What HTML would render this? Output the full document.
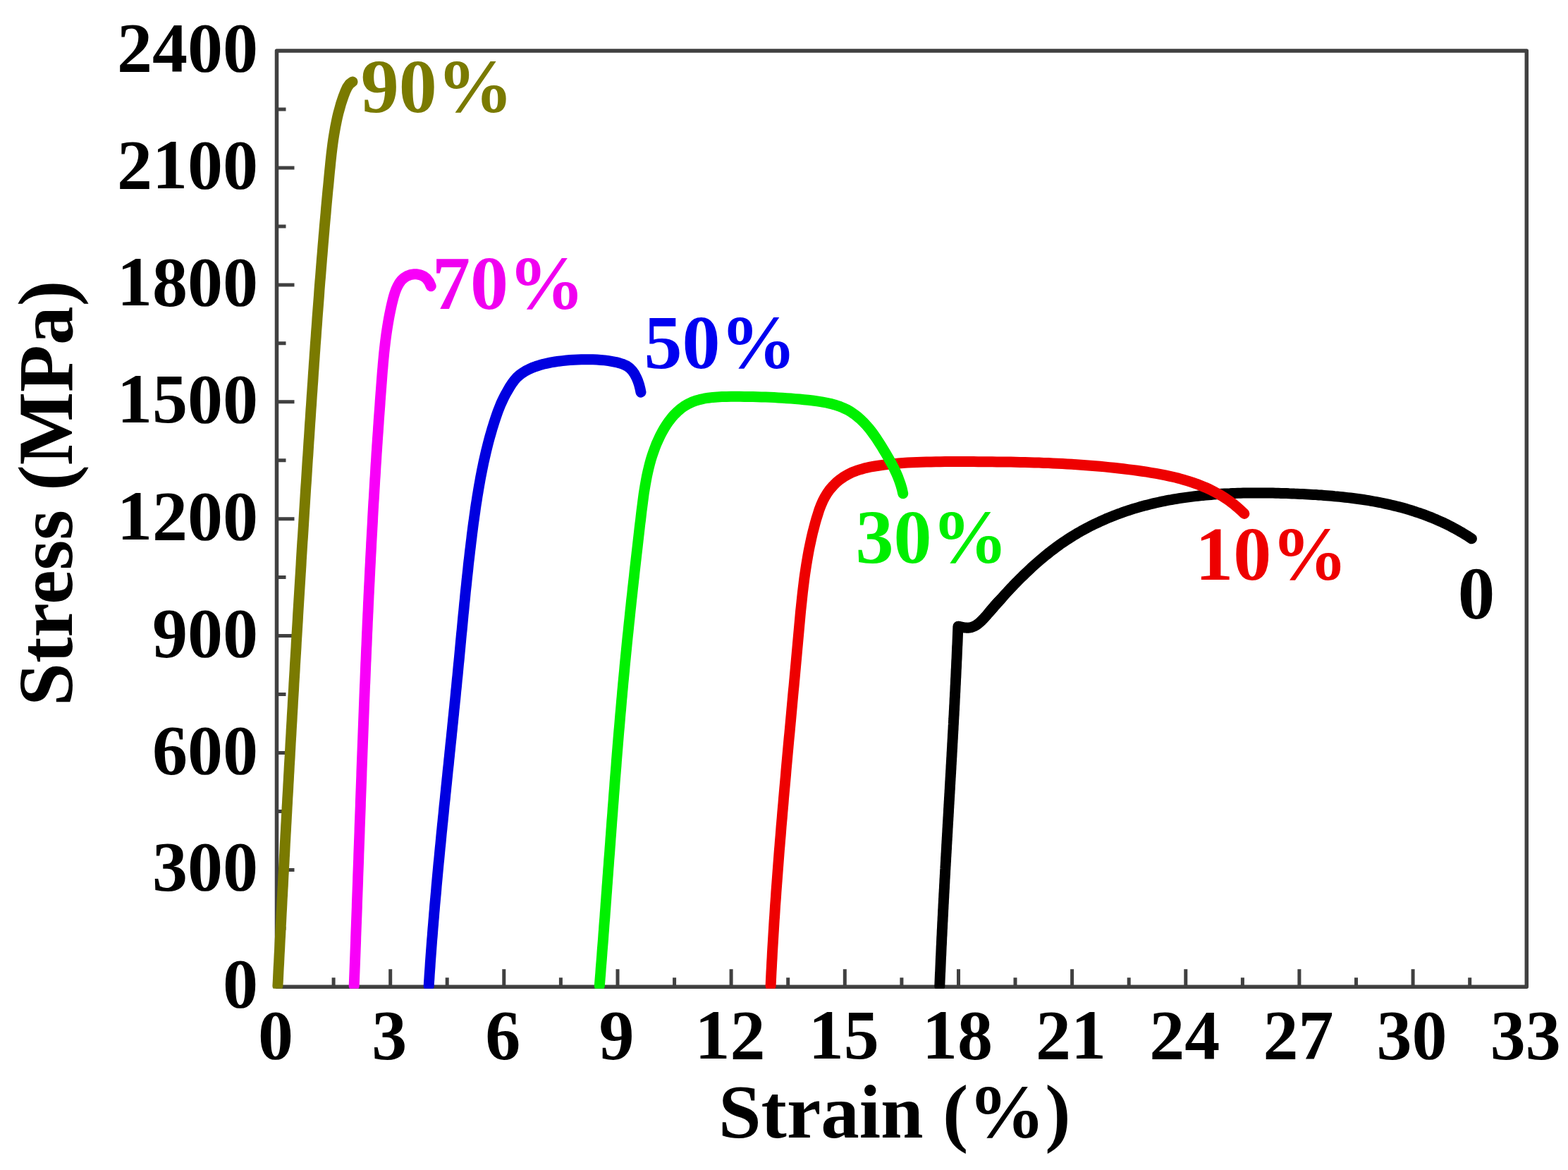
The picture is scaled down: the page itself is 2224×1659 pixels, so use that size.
<!DOCTYPE html><html><head><meta charset="utf-8"><style>html,body{margin:0;padding:0;background:#fff;}svg{display:block;}text{font-family:"Liberation Serif","Times New Roman",serif;font-weight:bold;}</style></head><body>
<svg width="2224" height="1659" viewBox="0 0 2224 1659">
<rect width="2224" height="1659" fill="#fff"/>
<rect x="392.5" y="72.1" width="1772.8" height="1327.2" fill="none" stroke="#404040" stroke-width="5.5" stroke-linejoin="round"/>
<path d="M473.1,1399.3V1386.3M553.7,1399.3V1374.3M634.2,1399.3V1386.3M714.8,1399.3V1374.3M795.4,1399.3V1386.3M876.0,1399.3V1374.3M956.6,1399.3V1386.3M1037.1,1399.3V1374.3M1117.7,1399.3V1386.3M1198.3,1399.3V1374.3M1278.9,1399.3V1386.3M1359.5,1399.3V1374.3M1440.0,1399.3V1386.3M1520.6,1399.3V1374.3M1601.2,1399.3V1386.3M1681.8,1399.3V1374.3M1762.4,1399.3V1386.3M1842.9,1399.3V1374.3M1923.5,1399.3V1386.3M2004.1,1399.3V1374.3M2084.7,1399.3V1386.3M392.5,1316.3H405.5M392.5,1233.4H417.5M392.5,1150.4H405.5M392.5,1067.5H417.5M392.5,984.5H405.5M392.5,901.6H417.5M392.5,818.6H405.5M392.5,735.7H417.5M392.5,652.7H405.5M392.5,569.8H417.5M392.5,486.8H405.5M392.5,403.9H417.5M392.5,320.9H405.5M392.5,238.0H417.5M392.5,155.0H405.5" stroke="#404040" stroke-width="5" fill="none"/>
<defs><clipPath id="pc"><rect x="380" y="60" width="1800" height="1341.8"/></clipPath></defs>
<g fill="none" stroke-width="15" stroke-linecap="round" stroke-linejoin="round" clip-path="url(#pc)">
<path stroke="#000" d="M1332.8,1398.0 L1332.9,1395.4 L1333.0,1392.8 L1333.1,1390.3 L1333.2,1387.7 L1333.3,1385.2 L1333.4,1382.6 L1333.5,1380.0 L1333.7,1377.5 L1333.8,1374.9 L1333.9,1372.4 L1334.0,1369.8 L1334.1,1367.2 L1334.2,1364.7 L1334.3,1362.1 L1334.4,1359.5 L1334.5,1357.0 L1334.7,1354.4 L1334.8,1351.9 L1334.9,1349.3 L1335.0,1346.7 L1335.1,1344.2 L1335.2,1341.6 L1335.4,1339.0 L1335.5,1336.5 L1335.6,1333.9 L1335.7,1331.4 L1335.8,1328.8 L1336.0,1326.2 L1336.1,1323.7 L1336.2,1321.1 L1336.3,1318.5 L1336.5,1316.0 L1336.6,1313.4 L1336.7,1310.9 L1336.8,1308.3 L1337.0,1305.7 L1337.1,1303.2 L1337.2,1300.6 L1337.4,1298.0 L1337.5,1295.5 L1337.6,1292.9 L1337.7,1290.4 L1337.9,1287.8 L1338.0,1285.2 L1338.1,1282.7 L1338.3,1280.1 L1338.4,1277.5 L1338.5,1275.0 L1338.7,1272.4 L1338.8,1269.8 L1338.9,1267.3 L1339.1,1264.7 L1339.2,1262.2 L1339.4,1259.6 L1339.5,1257.0 L1339.6,1254.5 L1339.8,1251.9 L1339.9,1249.3 L1340.0,1246.8 L1340.2,1244.2 L1340.3,1241.7 L1340.5,1239.1 L1340.6,1236.5 L1340.7,1234.0 L1340.9,1231.4 L1341.0,1228.8 L1341.2,1226.3 L1341.3,1223.7 L1341.5,1221.2 L1341.6,1218.6 L1341.7,1216.0 L1341.9,1213.5 L1342.0,1210.9 L1342.2,1208.3 L1342.3,1205.8 L1342.5,1203.2 L1342.6,1200.7 L1342.7,1198.1 L1342.9,1195.5 L1343.0,1193.0 L1343.2,1190.4 L1343.3,1187.8 L1343.5,1185.3 L1343.6,1182.7 L1343.8,1180.1 L1343.9,1177.6 L1344.0,1175.0 L1344.2,1172.5 L1344.3,1169.9 L1344.5,1167.3 L1344.6,1164.8 L1344.8,1162.2 L1344.9,1159.6 L1345.1,1157.1 L1345.2,1154.5 L1345.4,1152.0 L1345.5,1149.4 L1345.6,1146.8 L1345.8,1144.3 L1345.9,1141.7 L1346.1,1139.1 L1346.2,1136.6 L1346.4,1134.0 L1346.5,1131.5 L1346.7,1128.9 L1346.8,1126.3 L1347.0,1123.8 L1347.1,1121.2 L1347.3,1118.6 L1347.4,1116.1 L1347.5,1113.5 L1347.7,1111.0 L1347.8,1108.4 L1348.0,1105.8 L1348.1,1103.3 L1348.3,1100.7 L1348.4,1098.1 L1348.6,1095.6 L1348.7,1093.0 L1348.9,1090.5 L1349.0,1087.9 L1349.1,1085.3 L1349.3,1082.8 L1349.4,1080.2 L1349.6,1077.6 L1349.7,1075.1 L1349.9,1072.5 L1350.0,1070.0 L1350.1,1067.4 L1350.3,1064.8 L1350.4,1062.3 L1350.6,1059.7 L1350.7,1057.2 L1350.8,1054.6 L1351.0,1052.0 L1351.1,1049.5 L1351.3,1046.9 L1351.4,1044.3 L1351.5,1041.8 L1351.7,1039.2 L1351.8,1036.7 L1352.0,1034.1 L1352.1,1031.5 L1352.2,1029.0 L1352.4,1026.4 L1352.5,1023.8 L1352.6,1021.3 L1352.8,1018.7 L1352.9,1016.2 L1353.1,1013.6 L1353.2,1011.0 L1353.3,1008.5 L1353.5,1005.9 L1353.6,1003.4 L1353.7,1000.8 L1353.9,998.2 L1354.0,995.7 L1354.1,993.1 L1354.2,990.6 L1354.4,988.0 L1354.5,985.4 L1354.6,982.9 L1354.8,980.3 L1354.9,977.8 L1355.0,975.2 L1355.1,972.6 L1355.3,970.1 L1355.4,967.5 L1355.5,964.9 L1355.6,962.4 L1355.8,959.8 L1355.9,957.3 L1356.0,954.7 L1356.1,952.1 L1356.2,949.6 L1356.4,947.0 L1356.5,944.5 L1356.6,941.9 L1356.7,939.3 L1356.8,936.8 L1357.0,934.2 L1357.1,931.7 L1357.2,929.1 L1357.3,926.5 L1357.4,924.0 L1357.5,921.4 L1357.6,918.9 L1357.7,916.3 L1357.9,913.8 L1358.0,911.2 L1358.1,908.6 L1358.2,906.1 L1358.3,903.5 L1358.4,901.0 L1358.5,898.4 L1358.6,895.8 L1358.7,893.3 L1358.8,890.7 L1358.9,888.2"/>
<path stroke="#000" d="M1359.9,888.3 L1360.3,888.3 L1360.7,888.4 L1361.0,888.5 L1361.4,888.6 L1361.8,888.7 L1362.2,888.8 L1362.6,888.8 L1363.0,888.9 L1363.3,889.0 L1363.7,889.1 L1364.1,889.2 L1364.5,889.3 L1364.9,889.3 L1365.3,889.4 L1365.7,889.5 L1366.1,889.6 L1366.5,889.6 L1366.9,889.7 L1367.3,889.8 L1367.7,889.8 L1368.1,889.9 L1368.5,889.9 L1368.9,890.0 L1369.3,890.0 L1369.7,890.0 L1370.1,890.1 L1370.5,890.1 L1370.9,890.1 L1371.3,890.2 L1371.7,890.2 L1372.1,890.2 L1372.5,890.2 L1372.9,890.2 L1373.3,890.2 L1373.7,890.1 L1374.1,890.1 L1374.5,890.1 L1374.8,890.0 L1375.2,890.0 L1375.6,889.9 L1376.0,889.9 L1376.3,889.8 L1376.7,889.7 L1377.1,889.6 L1377.4,889.6 L1377.8,889.5 L1378.1,889.4 L1378.5,889.3 L1378.8,889.1 L1379.2,889.0 L1379.5,888.9 L1379.9,888.8 L1380.2,888.6 L1380.6,888.5 L1380.9,888.3 L1381.3,888.2 L1381.6,888.0 L1381.9,887.9 L1382.3,887.7 L1382.6,887.5 L1382.9,887.3 L1383.3,887.2 L1383.6,887.0 L1383.9,886.8 L1384.2,886.6 L1384.5,886.4 L1384.9,886.2 L1385.2,886.0 L1385.5,885.8 L1385.8,885.6 L1386.1,885.3 L1386.4,885.1 L1386.7,884.9 L1387.0,884.7 L1387.3,884.4 L1387.6,884.2 L1387.9,884.0 L1388.2,883.7 L1388.5,883.5 L1388.8,883.2 L1389.1,883.0 L1389.4,882.7 L1389.7,882.5 L1390.0,882.2 L1390.3,881.9 L1390.6,881.7 L1390.9,881.4 L1391.2,881.2 L1391.4,880.9 L1391.7,880.6 L1392.0,880.3 L1392.3,880.1 L1392.6,879.8 L1392.8,879.5 L1393.1,879.3 L1393.4,879.0 L1393.7,878.7 L1393.9,878.4 L1394.2,878.1 L1394.5,877.9 L1394.8,877.6 L1395.0,877.3 L1395.3,877.0 L1395.6,876.7 L1395.8,876.4 L1396.1,876.2 L1396.3,875.9 L1396.6,875.6 L1396.9,875.3 L1397.1,875.0 L1397.4,874.7 L1397.7,874.4 L1397.9,874.1 L1398.2,873.8 L1398.4,873.6 L1398.7,873.3 L1399.0,873.0 L1399.2,872.7 L1399.5,872.4 L1399.7,872.1 L1400.0,871.8 L1400.2,871.5 L1400.5,871.2 L1400.7,870.9 L1401.0,870.6 L1401.2,870.3 L1401.5,870.0 L1401.7,869.7 L1402.0,869.4 L1402.2,869.1 L1402.5,868.8 L1402.7,868.5 L1403.0,868.2 L1403.2,867.9 L1403.5,867.6 L1403.7,867.3 L1404.0,867.0 L1404.2,866.7 L1404.5,866.4 L1404.7,866.1 L1405.0,865.8 L1405.2,865.5 L1405.5,865.2 L1405.7,864.9 L1406.0,864.6 L1406.2,864.4 L1406.5,864.1 L1406.7,863.8 L1407.0,863.5 L1407.2,863.2 L1407.5,862.9 L1407.7,862.6 L1408.0,862.3 L1408.2,862.0 L1408.5,861.7 L1408.7,861.4 L1409.0,861.1 L1409.2,860.8 L1409.5,860.5 L1409.7,860.2 L1410.0,859.9 L1410.2,859.6 L1410.5,859.3 L1410.7,859.0 L1411.0,858.7 L1411.2,858.4 L1411.5,858.1 L1411.7,857.9 L1412.0,857.6 L1412.3,857.3 L1412.5,857.0 L1412.8,856.7 L1413.0,856.4 L1413.3,856.1 L1413.5,855.8 L1413.8,855.6 L1414.1,855.3 L1414.3,855.0 L1414.6,854.7 L1414.9,854.4 L1415.1,854.1 L1415.4,853.9 L1415.6,853.6 L1415.9,853.3 L1416.2,853.0 L1416.5,852.8 L1416.7,852.5 L1417.0,852.2 L1417.3,851.9 L1417.5,851.7 L1417.8,851.4 L1418.1,851.1 L1418.4,850.8 L1418.6,850.6 L1418.9,850.3 L1419.2,850.0 L1419.5,849.8 L1419.8,849.5 L1420.0,849.3"/>
<path stroke="#000" d="M1403.1,868.3 L1405.5,865.4 L1408.0,862.6 L1410.4,859.7 L1412.9,856.9 L1415.4,854.0 L1417.9,851.2 L1420.4,848.4 L1423.0,845.6 L1425.5,842.8 L1428.1,840.0 L1430.7,837.2 L1433.2,834.4 L1435.9,831.7 L1438.5,828.9 L1441.1,826.2 L1443.8,823.5 L1446.5,820.8 L1449.1,818.2 L1451.9,815.5 L1454.6,812.9 L1457.3,810.3 L1460.1,807.7 L1462.9,805.1 L1465.6,802.6 L1468.5,800.0 L1471.3,797.5 L1474.1,795.1 L1477.0,792.6 L1479.9,790.2 L1482.8,787.8 L1485.7,785.5 L1488.6,783.1 L1491.6,780.8 L1494.6,778.6 L1497.6,776.3 L1500.6,774.1 L1503.6,771.9 L1506.7,769.8 L1509.8,767.7 L1512.9,765.6 L1516.0,763.6 L1519.1,761.6 L1522.3,759.6 L1525.5,757.7 L1528.7,755.8 L1531.9,754.0 L1535.2,752.1 L1538.4,750.4 L1541.7,748.6 L1545.0,746.9 L1548.3,745.2 L1551.6,743.6 L1555.0,742.0 L1558.3,740.4 L1561.7,738.8 L1565.1,737.3 L1568.5,735.8 L1571.9,734.4 L1575.4,733.0 L1578.8,731.6 L1582.3,730.3 L1585.8,728.9 L1589.2,727.7 L1592.7,726.4 L1596.3,725.2 L1599.8,724.0 L1603.3,722.9 L1606.9,721.7 L1610.5,720.6 L1614.0,719.6 L1617.6,718.6 L1621.2,717.6 L1624.8,716.6 L1628.5,715.7 L1632.1,714.8 L1635.7,713.9 L1639.4,713.0 L1643.0,712.2 L1646.7,711.4 L1650.4,710.7 L1654.0,709.9 L1657.7,709.2 L1661.4,708.6 L1665.1,707.9 L1668.8,707.3 L1672.6,706.7 L1676.3,706.1 L1680.0,705.6 L1683.8,705.1 L1687.5,704.6 L1691.3,704.1 L1695.0,703.6 L1698.8,703.2 L1702.5,702.8 L1706.3,702.4 L1710.1,702.1 L1713.9,701.7 L1717.7,701.4 L1721.5,701.1 L1725.3,700.8 L1729.1,700.6 L1732.9,700.3 L1736.7,700.1 L1740.5,699.9 L1744.3,699.8 L1748.1,699.6 L1751.9,699.5 L1755.7,699.3 L1759.6,699.2 L1763.4,699.1 L1767.2,699.1 L1771.0,699.0 L1774.9,699.0 L1778.7,698.9 L1782.5,698.9 L1786.4,698.9 L1790.2,698.9 L1794.0,699.0 L1797.8,699.0 L1801.7,699.1 L1805.5,699.1 L1809.3,699.2 L1813.2,699.3 L1817.0,699.4 L1820.8,699.5 L1824.6,699.6 L1828.5,699.8 L1832.3,699.9 L1836.1,700.1 L1839.9,700.2 L1843.7,700.4 L1847.5,700.6 L1851.3,700.8 L1855.1,701.0 L1858.9,701.2 L1862.7,701.4 L1866.5,701.6 L1870.3,701.9 L1874.1,702.1 L1877.8,702.4 L1881.6,702.7 L1885.4,703.0 L1889.2,703.3 L1892.9,703.7 L1896.7,704.0 L1900.4,704.4 L1904.2,704.8 L1907.9,705.2 L1911.6,705.6 L1915.4,706.0 L1919.1,706.5 L1922.8,707.0 L1926.5,707.5 L1930.2,708.0 L1933.9,708.5 L1937.6,709.1 L1941.3,709.7 L1944.9,710.3 L1948.6,711.0 L1952.2,711.6 L1955.9,712.3 L1959.5,713.0 L1963.2,713.8 L1966.8,714.6 L1970.4,715.4 L1974.0,716.2 L1977.6,717.1 L1981.2,718.0 L1984.8,718.9 L1988.4,719.8 L1991.9,720.8 L1995.5,721.8 L1999.0,722.9 L2002.6,724.0 L2006.1,725.1 L2009.6,726.3 L2013.1,727.4 L2016.6,728.7 L2020.1,729.9 L2023.6,731.2 L2027.0,732.6 L2030.5,733.9 L2033.9,735.4 L2037.4,736.8 L2040.8,738.3 L2044.2,739.8 L2047.6,741.4 L2051.0,743.0 L2054.3,744.7 L2057.7,746.4 L2061.0,748.2 L2064.4,749.9 L2067.7,751.8 L2071.0,753.7 L2074.3,755.6 L2077.6,757.6 L2080.9,759.6 L2084.1,761.7 L2087.4,763.8"/>
<path stroke="#ee0000" d="M1093.1,1398.0 L1093.4,1391.4 L1093.7,1384.7 L1094.0,1378.0 L1094.4,1371.4 L1094.7,1364.7 L1095.1,1358.1 L1095.4,1351.4 L1095.8,1344.8 L1096.2,1338.1 L1096.6,1331.5 L1097.0,1324.8 L1097.4,1318.2 L1097.8,1311.5 L1098.2,1304.9 L1098.7,1298.2 L1099.1,1291.6 L1099.5,1284.9 L1100.0,1278.3 L1100.5,1271.6 L1100.9,1265.0 L1101.4,1258.3 L1101.9,1251.7 L1102.4,1245.1 L1102.9,1238.4 L1103.4,1231.8 L1103.9,1225.1 L1104.4,1218.5 L1104.9,1211.9 L1105.4,1205.2 L1106.0,1198.6 L1106.5,1191.9 L1107.1,1185.3 L1107.6,1178.7 L1108.1,1172.0 L1108.7,1165.4 L1109.3,1158.8 L1109.8,1152.1 L1110.4,1145.5 L1111.0,1138.9 L1111.5,1132.2 L1112.1,1125.6 L1112.7,1119.0 L1113.3,1112.3 L1113.9,1105.7 L1114.5,1099.1 L1115.0,1092.4 L1115.6,1085.8 L1116.2,1079.2 L1116.8,1072.5 L1117.4,1065.9 L1118.0,1059.3 L1118.6,1052.6 L1119.2,1046.0 L1119.9,1039.4 L1120.5,1032.7 L1121.1,1026.1 L1121.7,1019.5 L1122.3,1012.8 L1122.9,1006.2 L1123.5,999.6 L1124.1,992.9 L1124.7,986.3 L1125.3,979.7 L1126.0,973.0 L1126.6,966.4 L1127.2,959.8 L1127.8,953.1 L1128.4,946.5 L1129.0,939.8 L1129.6,933.2 L1130.2,926.6 L1130.8,919.9 L1131.4,913.3 L1132.0,906.6 L1132.6,900.0 L1133.2,893.4 L1133.8,886.7 L1134.4,880.1 L1135.0,873.4 L1135.6,866.8 L1136.3,860.2 L1137.0,853.6 L1137.7,846.9 L1138.4,840.3 L1139.2,833.7 L1140.0,827.1 L1140.8,820.5 L1141.7,813.9 L1142.7,807.3 L1143.7,800.8 L1144.8,794.2 L1145.9,787.7 L1147.1,781.1 L1148.4,774.6 L1149.8,768.1 L1151.2,761.6 L1152.7,755.1 L1154.4,748.7 L1156.1,742.2 L1157.9,735.8 L1159.9,729.4 L1161.9,723.0 L1164.3,716.8 L1166.9,710.7 L1169.9,704.8 L1173.4,699.1 L1177.3,693.7 L1181.7,688.7 L1186.4,684.0 L1191.5,679.8 L1197.0,676.0 L1202.7,672.7 L1208.6,669.8 L1214.8,667.4 L1221.2,665.4 L1227.7,663.6 L1234.2,662.2 L1240.9,661.0 L1247.6,660.0 L1254.2,659.1 L1260.9,658.3 L1267.5,657.6 L1274.1,657.1 L1280.7,656.5 L1287.3,656.1 L1293.9,655.7 L1300.6,655.4 L1307.2,655.2 L1313.9,655.0 L1320.6,654.9 L1327.2,654.8 L1333.9,654.7 L1340.6,654.6 L1347.3,654.6 L1353.9,654.6 L1360.6,654.6 L1367.3,654.6 L1374.0,654.6 L1380.6,654.6 L1387.3,654.7 L1394.0,654.7 L1400.6,654.7 L1407.3,654.8 L1413.9,654.9 L1420.6,654.9 L1427.2,655.0 L1433.9,655.1 L1440.5,655.3 L1447.2,655.4 L1453.8,655.6 L1460.5,655.7 L1467.1,655.9 L1473.7,656.1 L1480.4,656.4 L1487.0,656.6 L1493.6,656.9 L1500.3,657.2 L1506.9,657.6 L1513.6,657.9 L1520.2,658.3 L1526.8,658.7 L1533.5,659.2 L1540.1,659.7 L1546.7,660.2 L1553.4,660.7 L1560.0,661.3 L1566.6,661.9 L1573.3,662.6 L1579.9,663.3 L1586.5,664.0 L1593.2,664.8 L1599.8,665.6 L1606.5,666.4 L1613.1,667.3 L1619.8,668.2 L1626.4,669.2 L1633.0,670.3 L1639.7,671.4 L1646.3,672.6 L1652.8,673.9 L1659.4,675.3 L1665.9,676.8 L1672.3,678.4 L1678.7,680.2 L1685.1,682.1 L1691.3,684.1 L1697.6,686.3 L1703.7,688.7 L1709.8,691.2 L1715.8,693.9 L1721.6,696.9 L1727.4,700.0 L1733.1,703.3 L1738.7,706.9 L1744.2,710.7 L1749.6,714.8 L1754.8,719.1 L1759.9,723.6 L1764.9,728.4"/>
<path stroke="#00f000" d="M850.3,1397.9 L850.8,1391.8 L851.3,1385.7 L851.8,1379.6 L852.2,1373.5 L852.7,1367.4 L853.2,1361.3 L853.7,1355.1 L854.1,1349.0 L854.6,1342.9 L855.1,1336.8 L855.6,1330.7 L856.0,1324.6 L856.5,1318.4 L856.9,1312.3 L857.4,1306.2 L857.9,1300.1 L858.3,1293.9 L858.8,1287.8 L859.2,1281.7 L859.7,1275.5 L860.1,1269.4 L860.6,1263.3 L861.0,1257.1 L861.5,1251.0 L861.9,1244.9 L862.4,1238.7 L862.8,1232.6 L863.3,1226.5 L863.7,1220.3 L864.2,1214.2 L864.7,1208.1 L865.1,1201.9 L865.6,1195.8 L866.0,1189.6 L866.5,1183.5 L866.9,1177.4 L867.4,1171.2 L867.8,1165.1 L868.3,1159.0 L868.8,1152.8 L869.2,1146.7 L869.7,1140.5 L870.2,1134.4 L870.6,1128.3 L871.1,1122.1 L871.6,1116.0 L872.0,1109.9 L872.5,1103.7 L873.0,1097.6 L873.5,1091.5 L874.0,1085.3 L874.4,1079.2 L874.9,1073.1 L875.4,1066.9 L875.9,1060.8 L876.4,1054.7 L876.9,1048.5 L877.4,1042.4 L877.9,1036.3 L878.5,1030.2 L879.0,1024.1 L879.5,1017.9 L880.0,1011.8 L880.6,1005.7 L881.1,999.6 L881.6,993.5 L882.2,987.4 L882.7,981.2 L883.3,975.1 L883.8,969.0 L884.4,962.9 L885.0,956.8 L885.6,950.7 L886.1,944.6 L886.7,938.5 L887.3,932.4 L887.9,926.3 L888.5,920.2 L889.1,914.1 L889.7,908.1 L890.3,902.0 L891.0,895.9 L891.6,889.8 L892.2,883.7 L892.9,877.6 L893.5,871.5 L894.1,865.4 L894.8,859.3 L895.4,853.2 L896.1,847.1 L896.8,841.0 L897.4,834.9 L898.1,828.8 L898.8,822.7 L899.5,816.6 L900.1,810.5 L900.8,804.4 L901.5,798.3 L902.2,792.2 L902.9,786.0 L903.6,779.9 L904.3,773.8 L905.0,767.6 L905.7,761.5 L906.4,755.3 L907.1,749.2 L907.8,743.0 L908.6,736.9 L909.3,730.7 L910.0,724.5 L910.8,718.4 L911.6,712.2 L912.4,706.1 L913.2,699.9 L914.2,693.8 L915.2,687.7 L916.3,681.6 L917.4,675.6 L918.7,669.6 L920.1,663.6 L921.6,657.7 L923.2,651.8 L925.0,646.0 L927.0,640.2 L929.1,634.5 L931.3,628.8 L933.8,623.3 L936.4,617.8 L939.3,612.3 L942.3,607.0 L945.6,601.8 L949.1,596.8 L952.8,592.1 L956.8,587.6 L961.1,583.4 L965.6,579.5 L970.4,576.0 L975.5,573.0 L980.8,570.4 L986.5,568.3 L992.3,566.6 L998.4,565.2 L1004.6,564.2 L1011.0,563.4 L1017.4,562.9 L1023.9,562.6 L1030.3,562.4 L1036.8,562.3 L1043.2,562.3 L1049.5,562.3 L1055.7,562.4 L1061.9,562.4 L1068.0,562.6 L1074.0,562.7 L1080.0,562.9 L1086.0,563.1 L1092.0,563.3 L1097.9,563.6 L1103.9,563.9 L1109.8,564.3 L1115.8,564.7 L1121.9,565.1 L1127.9,565.6 L1134.1,566.1 L1140.3,566.7 L1146.5,567.3 L1152.8,568.0 L1159.1,568.9 L1165.4,569.8 L1171.7,571.0 L1177.8,572.3 L1183.8,573.9 L1189.7,575.8 L1195.4,578.1 L1200.9,580.6 L1206.1,583.6 L1211.1,586.9 L1215.8,590.5 L1220.3,594.4 L1224.7,598.6 L1228.8,603.0 L1232.8,607.7 L1236.6,612.5 L1240.2,617.5 L1243.7,622.6 L1247.1,627.8 L1250.4,633.0 L1253.6,638.4 L1256.8,643.7 L1259.9,649.0 L1262.9,654.4 L1265.8,659.8 L1268.6,665.2 L1271.2,670.7 L1273.6,676.3 L1275.7,682.0 L1277.7,687.8 L1279.4,693.7 L1280.7,699.8"/>
<path stroke="#0000e0" d="M608.2,1398.0 L608.5,1392.6 L608.9,1387.1 L609.2,1381.7 L609.6,1376.3 L610.0,1370.8 L610.3,1365.4 L610.7,1360.0 L611.1,1354.5 L611.5,1349.1 L611.9,1343.7 L612.3,1338.2 L612.7,1332.8 L613.2,1327.4 L613.6,1321.9 L614.0,1316.5 L614.5,1311.1 L614.9,1305.7 L615.4,1300.2 L615.8,1294.8 L616.3,1289.4 L616.7,1283.9 L617.2,1278.5 L617.7,1273.1 L618.2,1267.7 L618.7,1262.2 L619.1,1256.8 L619.6,1251.4 L620.1,1246.0 L620.6,1240.5 L621.1,1235.1 L621.6,1229.7 L622.1,1224.3 L622.7,1218.8 L623.2,1213.4 L623.7,1208.0 L624.2,1202.6 L624.8,1197.1 L625.3,1191.7 L625.8,1186.3 L626.3,1180.9 L626.9,1175.4 L627.4,1170.0 L628.0,1164.6 L628.5,1159.2 L629.1,1153.7 L629.6,1148.3 L630.1,1142.9 L630.7,1137.5 L631.3,1132.1 L631.8,1126.6 L632.4,1121.2 L632.9,1115.8 L633.5,1110.4 L634.0,1105.0 L634.6,1099.5 L635.1,1094.1 L635.7,1088.7 L636.3,1083.3 L636.8,1077.8 L637.4,1072.4 L637.9,1067.0 L638.5,1061.6 L639.0,1056.2 L639.6,1050.7 L640.2,1045.3 L640.7,1039.9 L641.3,1034.5 L641.8,1029.1 L642.4,1023.6 L642.9,1018.2 L643.5,1012.8 L644.0,1007.4 L644.6,1002.0 L645.1,996.5 L645.7,991.1 L646.2,985.7 L646.7,980.3 L647.3,974.9 L647.8,969.5 L648.3,964.0 L648.9,958.6 L649.4,953.2 L649.9,947.8 L650.4,942.4 L651.0,936.9 L651.5,931.5 L652.0,926.1 L652.5,920.7 L653.0,915.3 L653.5,909.8 L654.0,904.4 L654.5,899.0 L655.1,893.6 L655.6,888.2 L656.1,882.8 L656.6,877.3 L657.1,871.9 L657.7,866.5 L658.2,861.1 L658.7,855.7 L659.3,850.2 L659.8,844.8 L660.3,839.4 L660.9,834.0 L661.5,828.6 L662.0,823.2 L662.6,817.7 L663.2,812.3 L663.8,806.9 L664.3,801.5 L664.9,796.1 L665.6,790.6 L666.2,785.2 L666.8,779.8 L667.5,774.4 L668.1,769.0 L668.8,763.6 L669.4,758.1 L670.1,752.7 L670.8,747.3 L671.5,741.9 L672.3,736.5 L673.0,731.1 L673.8,725.6 L674.5,720.2 L675.3,714.8 L676.2,709.4 L677.0,704.0 L677.9,698.7 L678.8,693.3 L679.7,687.9 L680.7,682.5 L681.6,677.2 L682.7,671.8 L683.7,666.5 L684.8,661.2 L685.9,655.8 L687.1,650.5 L688.3,645.3 L689.5,640.0 L690.8,634.7 L692.1,629.5 L693.5,624.2 L694.9,619.0 L696.4,613.8 L697.9,608.6 L699.5,603.5 L701.1,598.3 L702.8,593.2 L704.5,588.1 L706.3,583.0 L708.3,578.0 L710.3,573.0 L712.6,568.0 L715.0,563.0 L717.6,558.1 L720.4,553.2 L723.2,548.4 L726.2,543.7 L729.4,539.4 L732.9,535.4 L736.8,531.9 L741.0,528.8 L745.4,526.0 L750.1,523.6 L755.0,521.4 L760.1,519.5 L765.4,517.8 L770.8,516.3 L776.2,515.1 L781.7,513.9 L787.2,513.0 L792.6,512.2 L798.0,511.6 L803.3,511.0 L808.6,510.6 L813.9,510.2 L819.2,510.0 L824.6,509.8 L830.1,509.7 L835.6,509.7 L841.1,509.8 L846.7,510.0 L852.2,510.4 L857.7,510.9 L863.2,511.7 L868.6,512.6 L874.0,513.6 L879.2,515.0 L884.3,516.7 L889.0,518.9 L893.2,521.9 L896.8,525.7 L899.9,530.0 L902.5,534.9 L904.7,540.0 L906.5,545.4 L907.9,550.8 L909.0,556.2"/>
<path stroke="#f800f8" d="M502.2,1397.9 L502.4,1392.6 L502.6,1387.3 L502.8,1382.0 L503.0,1376.7 L503.2,1371.4 L503.4,1366.1 L503.6,1360.8 L503.8,1355.5 L504.0,1350.1 L504.2,1344.8 L504.4,1339.5 L504.6,1334.2 L504.7,1328.9 L504.9,1323.6 L505.1,1318.3 L505.3,1313.0 L505.5,1307.6 L505.7,1302.3 L505.9,1297.0 L506.1,1291.7 L506.3,1286.4 L506.4,1281.1 L506.6,1275.7 L506.8,1270.4 L507.0,1265.1 L507.2,1259.8 L507.4,1254.5 L507.6,1249.2 L507.7,1243.8 L507.9,1238.5 L508.1,1233.2 L508.3,1227.9 L508.5,1222.6 L508.7,1217.2 L508.8,1211.9 L509.0,1206.6 L509.2,1201.3 L509.4,1196.0 L509.6,1190.6 L509.8,1185.3 L510.0,1180.0 L510.1,1174.7 L510.3,1169.4 L510.5,1164.0 L510.7,1158.7 L510.9,1153.4 L511.1,1148.1 L511.3,1142.8 L511.4,1137.4 L511.6,1132.1 L511.8,1126.8 L512.0,1121.5 L512.2,1116.2 L512.4,1110.8 L512.6,1105.5 L512.8,1100.2 L512.9,1094.9 L513.1,1089.6 L513.3,1084.2 L513.5,1078.9 L513.7,1073.6 L513.9,1068.3 L514.1,1062.9 L514.3,1057.6 L514.5,1052.3 L514.7,1047.0 L514.9,1041.7 L515.1,1036.3 L515.3,1031.0 L515.5,1025.7 L515.7,1020.4 L515.9,1015.0 L516.1,1009.7 L516.3,1004.4 L516.5,999.1 L516.7,993.8 L516.9,988.4 L517.1,983.1 L517.3,977.8 L517.5,972.5 L517.8,967.2 L518.0,961.8 L518.2,956.5 L518.4,951.2 L518.6,945.9 L518.8,940.6 L519.1,935.2 L519.3,929.9 L519.5,924.6 L519.7,919.3 L520.0,914.0 L520.2,908.6 L520.4,903.3 L520.6,898.0 L520.9,892.7 L521.1,887.4 L521.3,882.0 L521.6,876.7 L521.8,871.4 L522.1,866.1 L522.3,860.8 L522.5,855.4 L522.8,850.1 L523.0,844.8 L523.3,839.5 L523.5,834.2 L523.8,828.9 L524.1,823.5 L524.3,818.2 L524.6,812.9 L524.8,807.6 L525.1,802.3 L525.4,797.0 L525.6,791.7 L525.9,786.3 L526.2,781.0 L526.5,775.7 L526.7,770.4 L527.0,765.1 L527.3,759.8 L527.6,754.5 L527.9,749.2 L528.2,743.8 L528.5,738.5 L528.7,733.2 L529.0,727.9 L529.3,722.6 L529.6,717.3 L529.9,712.0 L530.3,706.7 L530.6,701.4 L530.9,696.1 L531.2,690.8 L531.5,685.5 L531.8,680.1 L532.2,674.8 L532.5,669.5 L532.8,664.2 L533.1,658.9 L533.5,653.6 L533.8,648.3 L534.1,643.0 L534.5,637.7 L534.8,632.4 L535.2,627.1 L535.5,621.8 L535.9,616.5 L536.3,611.2 L536.6,605.9 L537.0,600.6 L537.3,595.3 L537.7,590.0 L538.1,584.7 L538.5,579.4 L538.9,574.1 L539.2,568.8 L539.6,563.5 L540.0,558.2 L540.4,553.0 L540.8,547.7 L541.2,542.4 L541.6,537.1 L542.0,531.8 L542.4,526.5 L542.9,521.2 L543.3,515.9 L543.8,510.6 L544.3,505.3 L544.8,500.0 L545.4,494.7 L546.0,489.4 L546.6,484.1 L547.3,478.8 L548.0,473.5 L548.8,468.2 L549.6,462.9 L550.5,457.6 L551.4,452.2 L552.4,446.9 L553.5,441.6 L554.6,436.2 L555.8,430.9 L557.1,425.6 L558.5,420.2 L560.1,415.0 L561.9,410.1 L564.1,405.4 L566.6,401.1 L569.5,397.3 L573.0,394.1 L577.1,391.5 L581.7,389.7 L586.5,388.8 L591.5,388.8 L596.4,389.8 L601.1,391.9 L605.2,395.2 L608.6,399.8 L611.2,405.8"/>
<path stroke="#7a7a00" d="M393.9,1397.9 L394.3,1391.4 L394.6,1384.9 L394.9,1378.4 L395.2,1371.9 L395.6,1365.5 L395.9,1359.0 L396.2,1352.5 L396.6,1346.0 L396.9,1339.5 L397.2,1333.0 L397.6,1326.6 L397.9,1320.1 L398.2,1313.6 L398.6,1307.1 L398.9,1300.6 L399.2,1294.1 L399.6,1287.7 L399.9,1281.2 L400.2,1274.7 L400.6,1268.2 L400.9,1261.7 L401.3,1255.2 L401.6,1248.7 L401.9,1242.2 L402.3,1235.8 L402.6,1229.3 L403.0,1222.8 L403.3,1216.3 L403.7,1209.8 L404.0,1203.3 L404.3,1196.8 L404.7,1190.3 L405.0,1183.9 L405.4,1177.4 L405.7,1170.9 L406.1,1164.4 L406.4,1157.9 L406.8,1151.4 L407.1,1144.9 L407.5,1138.4 L407.8,1131.9 L408.2,1125.5 L408.6,1119.0 L408.9,1112.5 L409.3,1106.0 L409.6,1099.5 L410.0,1093.0 L410.3,1086.5 L410.7,1080.0 L411.1,1073.5 L411.4,1067.0 L411.8,1060.6 L412.1,1054.1 L412.5,1047.6 L412.9,1041.1 L413.2,1034.6 L413.6,1028.1 L414.0,1021.6 L414.3,1015.1 L414.7,1008.6 L415.1,1002.1 L415.4,995.6 L415.8,989.2 L416.2,982.7 L416.6,976.2 L416.9,969.7 L417.3,963.2 L417.7,956.7 L418.1,950.2 L418.4,943.7 L418.8,937.2 L419.2,930.7 L419.6,924.3 L420.0,917.8 L420.3,911.3 L420.7,904.8 L421.1,898.3 L421.5,891.8 L421.9,885.3 L422.3,878.8 L422.6,872.3 L423.0,865.9 L423.4,859.4 L423.8,852.9 L424.2,846.4 L424.6,839.9 L425.0,833.4 L425.4,826.9 L425.8,820.4 L426.2,813.9 L426.6,807.5 L427.0,801.0 L427.3,794.5 L427.7,788.0 L428.1,781.5 L428.5,775.0 L428.9,768.5 L429.4,762.0 L429.8,755.6 L430.2,749.1 L430.6,742.6 L431.0,736.1 L431.4,729.6 L431.8,723.1 L432.2,716.7 L432.6,710.2 L433.0,703.7 L433.4,697.2 L433.8,690.7 L434.3,684.2 L434.7,677.7 L435.1,671.3 L435.5,664.8 L435.9,658.3 L436.3,651.8 L436.8,645.3 L437.2,638.9 L437.6,632.4 L438.0,625.9 L438.5,619.4 L438.9,612.9 L439.3,606.5 L439.7,600.0 L440.2,593.5 L440.6,587.0 L441.0,580.5 L441.5,574.1 L441.9,567.6 L442.3,561.1 L442.8,554.6 L443.2,548.2 L443.7,541.7 L444.1,535.2 L444.5,528.7 L445.0,522.3 L445.4,515.8 L445.9,509.3 L446.3,502.8 L446.8,496.4 L447.2,489.9 L447.7,483.4 L448.2,476.9 L448.6,470.4 L449.1,464.0 L449.6,457.5 L450.0,451.0 L450.5,444.5 L451.0,438.1 L451.5,431.6 L452.0,425.1 L452.5,418.6 L452.9,412.1 L453.4,405.7 L453.9,399.2 L454.5,392.7 L455.0,386.2 L455.5,379.7 L456.0,373.3 L456.5,366.8 L457.1,360.3 L457.6,353.8 L458.1,347.3 L458.7,340.8 L459.2,334.3 L459.8,327.9 L460.3,321.4 L460.9,314.9 L461.5,308.4 L462.1,301.9 L462.6,295.4 L463.2,288.9 L463.8,282.4 L464.4,275.9 L465.0,269.4 L465.7,262.9 L466.3,256.4 L466.9,249.9 L467.5,243.4 L468.2,236.9 L468.8,230.4 L469.5,223.9 L470.2,217.4 L471.0,210.9 L471.8,204.5 L472.7,198.0 L473.7,191.6 L474.8,185.2 L475.9,178.9 L477.2,172.6 L478.5,166.3 L480.0,160.0 L481.7,153.9 L483.4,147.7 L485.4,141.6 L487.5,135.6 L489.8,129.6 L492.4,124.0 L495.7,119.2 L500.0,115.9"/>
</g>
<g font-size="100" fill="#000">
<text x="366" y="1428.3" text-anchor="end">0</text>
<text x="366" y="1262.4" text-anchor="end">300</text>
<text x="366" y="1096.5" text-anchor="end">600</text>
<text x="366" y="930.6" text-anchor="end">900</text>
<text x="366" y="764.7" text-anchor="end">1200</text>
<text x="366" y="598.8" text-anchor="end">1500</text>
<text x="366" y="432.9" text-anchor="end">1800</text>
<text x="366" y="267.0" text-anchor="end">2100</text>
<text x="366" y="101.1" text-anchor="end">2400</text>
<text x="391.0" y="1500.5" text-anchor="middle">0</text>
<text x="552.2" y="1500.5" text-anchor="middle">3</text>
<text x="713.3" y="1500.5" text-anchor="middle">6</text>
<text x="874.5" y="1500.5" text-anchor="middle">9</text>
<text x="1035.6" y="1500.5" text-anchor="middle">12</text>
<text x="1196.8" y="1500.5" text-anchor="middle">15</text>
<text x="1358.0" y="1500.5" text-anchor="middle">18</text>
<text x="1519.1" y="1500.5" text-anchor="middle">21</text>
<text x="1680.3" y="1500.5" text-anchor="middle">24</text>
<text x="1841.4" y="1500.5" text-anchor="middle">27</text>
<text x="2002.6" y="1500.5" text-anchor="middle">30</text>
<text x="2163.8" y="1500.5" text-anchor="middle">33</text>
</g>
<text x="1019" y="1613" font-size="109" fill="#000">Strain (%)</text>
<text transform="translate(102,1001) rotate(-90)" x="0" y="0" font-size="109.5" fill="#000">Stress (MPa)</text>
<text x="511.7" y="158.5" font-size="108" fill="#7a7a00">90%</text>
<text x="613.0" y="437.7" font-size="108" fill="#f000f0">70%</text>
<text x="913.6" y="522.0" font-size="108" fill="#0000f0">50%</text>
<text x="1213.6" y="798.0" font-size="108" fill="#00ee00">30%</text>
<text x="1695.2" y="822.2" font-size="108" fill="#ee0000">10%</text>
<text x="2067.7" y="876.5" font-size="105" fill="#000">0</text>
</svg></body></html>
